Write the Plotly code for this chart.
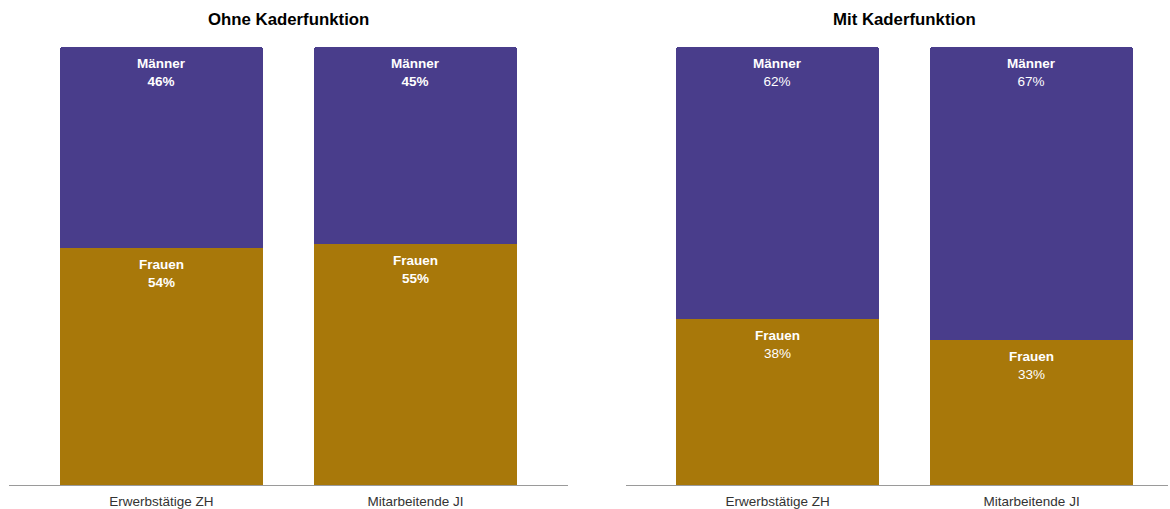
import plotly.graph_objects as go

# Data: gender shares (%) of employees, without / with management function
categories = ["Erwerbstätige ZH", "Mitarbeitende JI"]
frauen_ohne = [54, 55]
maenner_ohne = [46, 45]
frauen_mit = [38, 33]
maenner_mit = [62, 67]
panel_titles = ["Ohne Kaderfunktion", "Mit Kaderfunktion"]

COL_FRAUEN = "#A8780A"
COL_MAENNER = "#493D8B"
FONT = "Liberation Sans, Arial, sans-serif"

fig = go.Figure()

panels = [
    ("x", "y", frauen_ohne, maenner_ohne, True),
    ("x2", "y2", frauen_mit, maenner_mit, False),
]

for xa, ya, fr, ma, bold_values in panels:
    fig.add_trace(go.Bar(x=categories, y=fr, xaxis=xa, yaxis=ya, width=0.8,
                         marker=dict(color=COL_FRAUEN, line=dict(width=0)),
                         name="Frauen", showlegend=False, hoverinfo="skip"))
    fig.add_trace(go.Bar(x=categories, y=ma, xaxis=xa, yaxis=ya, width=0.8,
                         marker=dict(color=COL_MAENNER, line=dict(width=0)),
                         name="Männer", showlegend=False, hoverinfo="skip"))
    # segment labels placed just under each segment's top edge
    for i, cat in enumerate(categories):
        for label, top, val in (("Frauen", fr[i], fr[i]), ("Männer", fr[i] + ma[i], ma[i])):
            if bold_values:
                txt = f"<b>{label}<br>{val}%</b>"
            else:
                txt = f"<b>{label}</b><br>{val}%"
            fig.add_annotation(x=cat, y=top, xref=xa, yref=ya, text=txt,
                               showarrow=False, yanchor="top", yshift=-7,
                               font=dict(family=FONT, size=13.5, color="white"),
                               align="center")

for xa, title in zip(["x", "x2"], panel_titles):
    fig.add_annotation(x=0.5, y=20, xref=xa, yref="paper", yanchor="middle",
                       text=f"<b>{title}</b>", showarrow=False,
                       font=dict(family=FONT, size=16.8, color="black"))

W, H = 1170, 509
ydom = [(H - 485) / H, (H - 47) / H]
axis_common = dict(showgrid=False, zeroline=False, showline=True,
                   linecolor="#9a9a9a", linewidth=1, ticks="",
                   ticklabelstandoff=4,
                   tickfont=dict(family=FONT, size=13.5, color="#333333"),
                   automargin=False, fixedrange=True)
yaxis_common = dict(range=[0, 100], domain=ydom, visible=False, fixedrange=True)

fig.update_layout(
    width=W, height=H,
    margin=dict(l=0, r=0, t=0, b=0),
    paper_bgcolor="white", plot_bgcolor="white",
    barmode="stack", barcornerradius=3,
    xaxis=dict(domain=[9 / W, 568 / W], range=[-0.6, 1.6], **axis_common),
    xaxis2=dict(domain=[626 / W, 1168 / W], range=[-0.597, 1.537], **axis_common),
    yaxis=dict(anchor="x", **yaxis_common),
    yaxis2=dict(anchor="x2", **yaxis_common),
)

# paper-anchored title y given in pixels from top
for ann in fig.layout.annotations:
    if ann.yref == "paper":
        ann.y = (H - ann.y) / H

fig.write_html("out.html")
